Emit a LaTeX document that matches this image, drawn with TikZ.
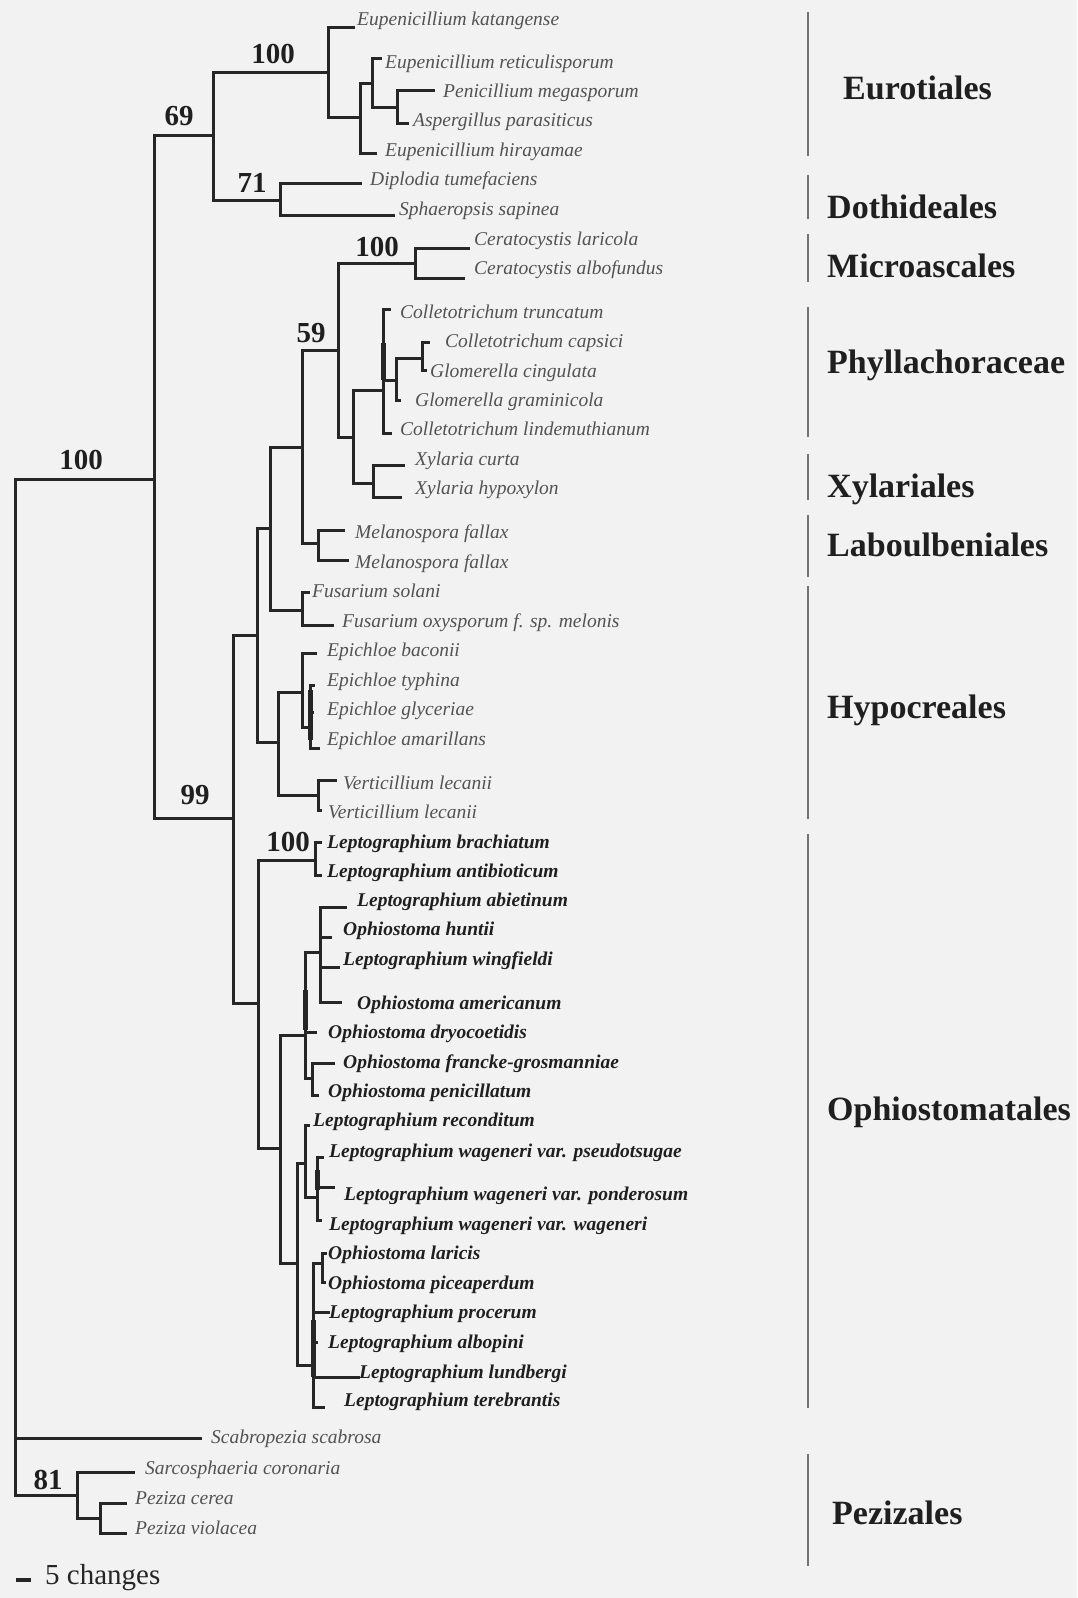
\documentclass[tikz,border=0pt]{standalone}
\usepackage{fontspec}
\setmainfont{Liberation Serif}
\begin{document}
\begin{tikzpicture}[x=1pt,y=-1pt,
  br/.style={line width=3pt, draw=black!85, line cap=rect},
  thk/.style={line width=5pt, draw=black!85},
  bar/.style={line width=2.2pt, draw=black!55},
  lf/.style={anchor=west, inner sep=0pt, text height=13.3pt, text depth=4.3pt,
    font=\fontsize{19.5}{22}\selectfont\itshape, text=black!68},
  of/.style={lf, font=\fontsize{19.5}{22}\selectfont\bfseries\itshape, text=black!88},
  grp/.style={anchor=west, inner sep=0pt, text height=23pt, text depth=0pt,
    font=\fontsize{34}{40}\selectfont\bfseries, text=black!88},
  supp/.style={inner sep=0pt, font=\fontsize{29}{34}\selectfont\bfseries, text=black!88},
  scl/.style={anchor=west, inner sep=0pt, font=\fontsize{29}{34}\selectfont, text=black!85}]
\useasboundingbox (0,0) rectangle (1077,1598);
\fill[black!5] (0,0) rectangle (1077,1598);

% internal nodes
\coordinate (R) at (15,479);
\coordinate (A) at (154,479);
\coordinate (B) at (213,135);
\coordinate (C) at (328,72);
\coordinate (D) at (360,117);
\coordinate (E) at (372,83);
\coordinate (F) at (397,107);
\coordinate (G) at (280,200);
\coordinate (H) at (233,818);
\coordinate (I) at (257,635);
\coordinate (J) at (270,528);
\coordinate (K) at (302,447);
\coordinate (L) at (338,350);
\coordinate (M) at (415,263);
\coordinate (N) at (353,437);
\coordinate (O) at (383,390);
\coordinate (P) at (396,380);
\coordinate (Q) at (422,358);
\coordinate (Xy) at (373,483);
\coordinate (Me) at (318,543);
\coordinate (Fu) at (302,610);
\coordinate (S) at (278,742);
\coordinate (Ep) at (302,692);
\coordinate (Ep2) at (310,727);
\coordinate (Ve) at (318,795);
\coordinate (T) at (258,1003);
\coordinate (U) at (315,860);
\coordinate (V) at (280,1148);
\coordinate (W) at (305,1035);
\coordinate (W1) at (320,952);
\coordinate (W2) at (312,1078);
\coordinate (X) at (297,1263);
\coordinate (Y) at (305,1163);
\coordinate (Y2) at (317,1197);
\coordinate (Z) at (313,1365);
\coordinate (Z2) at (322,1263);
\coordinate (Pz) at (77,1495);
\coordinate (Pz2) at (100,1518);

% leaf ends
\coordinate (l1) at (353,27);
\coordinate (l2) at (380,58);
\coordinate (l3) at (433,90);
\coordinate (l4) at (407,123);
\coordinate (l5) at (375,153);
\coordinate (l6) at (360,183);
\coordinate (l7) at (393,215);
\coordinate (l8) at (468,248);
\coordinate (l9) at (463,278);
\coordinate (l10) at (389,309);
\coordinate (l11) at (428,342);
\coordinate (l12) at (425,370);
\coordinate (l13) at (399,400);
\coordinate (l14) at (390,433);
\coordinate (l15) at (403,465);
\coordinate (l16) at (400,497);
\coordinate (l17) at (343,530);
\coordinate (l18) at (347,560);
\coordinate (l19) at (308,592);
\coordinate (l20) at (332,625);
\coordinate (l21) at (315,653);
\coordinate (l22) at (313,685);
\coordinate (l23) at (312,712);
\coordinate (l24) at (318,748);
\coordinate (l25) at (335,780);
\coordinate (l26) at (320,810);
\coordinate (l27) at (320,842);
\coordinate (l28) at (320,875);
\coordinate (l29) at (345,907);
\coordinate (l30) at (330,937);
\coordinate (l31) at (338,967);
\coordinate (l32) at (340,1002);
\coordinate (l33) at (315,1032);
\coordinate (l34) at (333,1063);
\coordinate (l35) at (317,1095);
\coordinate (l36) at (308,1125);
\coordinate (l37) at (322,1157);
\coordinate (l38) at (333,1187);
\coordinate (l39) at (320,1220);
\coordinate (l40) at (325,1253);
\coordinate (l41) at (324,1282);
\coordinate (l42) at (328,1312);
\coordinate (l43) at (316,1342);
\coordinate (l44) at (358,1377);
\coordinate (l45) at (323,1407);
\coordinate (l46) at (200,1438);
\coordinate (l47) at (133,1472);
\coordinate (l48) at (125,1503);
\coordinate (l49) at (125,1533);

% branches
\draw[br] (R) -- (A);
\draw[br] (R) |- (l46);
\draw[br] (R) |- (Pz);
\draw[br] (A) |- (B);
\draw[br] (A) |- (H);
\draw[br] (B) |- (C);
\draw[br] (B) |- (G);
\draw[br] (C) |- (l1);
\draw[br] (C) |- (D);
\draw[br] (D) |- (E);
\draw[br] (D) |- (l5);
\draw[br] (E) |- (l2);
\draw[br] (E) |- (F);
\draw[br] (F) |- (l3);
\draw[br] (F) |- (l4);
\draw[br] (G) |- (l6);
\draw[br] (G) |- (l7);
\draw[br] (H) |- (I);
\draw[br] (H) |- (T);
\draw[br] (I) |- (J);
\draw[br] (I) |- (S);
\draw[br] (J) |- (K);
\draw[br] (J) |- (Fu);
\draw[br] (K) |- (L);
\draw[br] (K) |- (Me);
\draw[br] (L) |- (M);
\draw[br] (L) |- (N);
\draw[br] (M) |- (l8);
\draw[br] (M) |- (l9);
\draw[br] (N) |- (O);
\draw[br] (N) |- (Xy);
\draw[br] (O) |- (l10);
\draw[br] (O) |- (P);
\draw[br] (O) |- (l14);
\draw[br] (P) |- (Q);
\draw[br] (P) |- (l13);
\draw[br] (Q) |- (l11);
\draw[br] (Q) |- (l12);
\draw[br] (Xy) |- (l15);
\draw[br] (Xy) |- (l16);
\draw[br] (Me) |- (l17);
\draw[br] (Me) |- (l18);
\draw[br] (Fu) |- (l19);
\draw[br] (Fu) |- (l20);
\draw[br] (S) |- (Ep);
\draw[br] (S) |- (Ve);
\draw[br] (Ep) |- (l21);
\draw[br] (Ep) |- (Ep2);
\draw[br] (Ep2) |- (l22);
\draw[br] (Ep2) |- (l23);
\draw[br] (Ep2) |- (l24);
\draw[br] (Ve) |- (l25);
\draw[br] (Ve) |- (l26);
\draw[br] (T) |- (U);
\draw[br] (T) |- (V);
\draw[br] (U) |- (l27);
\draw[br] (U) |- (l28);
\draw[br] (V) |- (W);
\draw[br] (V) |- (X);
\draw[br] (W) |- (W1);
\draw[br] (W) |- (l33);
\draw[br] (W) |- (W2);
\draw[br] (W1) |- (l29);
\draw[br] (W1) |- (l30);
\draw[br] (W1) |- (l31);
\draw[br] (W1) |- (l32);
\draw[br] (W2) |- (l34);
\draw[br] (W2) |- (l35);
\draw[br] (X) |- (Y);
\draw[br] (X) |- (Z);
\draw[br] (Y) |- (l36);
\draw[br] (Y) |- (Y2);
\draw[br] (Y2) |- (l37);
\draw[br] (Y2) |- (l38);
\draw[br] (Y2) |- (l39);
\draw[br] (Z) |- (Z2);
\draw[br] (Z) |- (l42);
\draw[br] (Z) |- (l43);
\draw[br] (Z) |- (l44);
\draw[br] (Z) |- (l45);
\draw[br] (Z2) |- (l40);
\draw[br] (Z2) |- (l41);
\draw[br] (Pz) |- (l47);
\draw[br] (Pz) |- (Pz2);
\draw[br] (Pz2) |- (l48);
\draw[br] (Pz2) |- (l49);

% thick (overlapping zero-length) segments
\draw[thk] ([yshift=47pt]O) -- ([yshift=10pt]O);
\draw[thk] ([yshift=37pt]Ep2) -- ([yshift=-13pt]Ep2);
\draw[thk] ([yshift=45pt]W) -- ([yshift=5pt]W);
\draw[thk] ([yshift=27pt]Y2) -- ([yshift=7pt]Y2);
\draw[thk] ([yshift=45pt]Z) -- ([yshift=-12pt]Z);

% leaf labels
\node[lf] (t1) at (357,21) {Eupenicillium katangense};
\node[lf] (t2) at (385,64) {Eupenicillium reticulisporum};
\node[lf] (t3) at (443,93) {Penicillium megasporum};
\node[lf] (t4) at (413,122) {Aspergillus parasiticus};
\node[lf] (t5) at (385,152) {Eupenicillium hirayamae};
\node[lf] (t6) at (370,181) {Diplodia tumefaciens};
\node[lf] (t7) at (399,211) {Sphaeropsis sapinea};
\node[lf] (t8) at (474,241) {Ceratocystis laricola};
\node[lf] (t9) at (474,270) {Ceratocystis albofundus};
\node[lf] (t10) at (400,314) {Colletotrichum truncatum};
\node[lf] (t11) at (445,343) {Colletotrichum capsici};
\node[lf] (t12) at (430,373) {Glomerella cingulata};
\node[lf] (t13) at (415,402) {Glomerella graminicola};
\node[lf] (t14) at (400,431) {Colletotrichum lindemuthianum};
\node[lf] (t15) at (415,461) {Xylaria curta};
\node[lf] (t16) at (415,490) {Xylaria hypoxylon};
\node[lf] (t17) at (355,534) {Melanospora fallax};
\node[lf] (t18) at (355,564) {Melanospora fallax};
\node[lf] (t19) at (312,593) {Fusarium solani};
\node[lf] (t20) at (342,623) {Fusarium oxysporum f. sp. melonis};
\node[lf] (t21) at (327,652) {Epichloe baconii};
\node[lf] (t22) at (327,682) {Epichloe typhina};
\node[lf] (t23) at (327,711) {Epichloe glyceriae};
\node[lf] (t24) at (327,741) {Epichloe amarillans};
\node[lf] (t25) at (343,785) {Verticillium lecanii};
\node[lf] (t26) at (328,814) {Verticillium lecanii};
\node[of] (t27) at (327,844) {Leptographium brachiatum};
\node[of] (t28) at (327,873) {Leptographium antibioticum};
\node[of] (t29) at (357,902) {Leptographium abietinum};
\node[of] (t30) at (343,931) {Ophiostoma huntii};
\node[of] (t31) at (343,961) {Leptographium wingfieldi};
\node[of] (t32) at (357,1005) {Ophiostoma americanum};
\node[of] (t33) at (328,1034) {Ophiostoma dryocoetidis};
\node[of] (t34) at (343,1064) {Ophiostoma francke-grosmanniae};
\node[of] (t35) at (328,1093) {Ophiostoma penicillatum};
\node[of] (t36) at (313,1122) {Leptographium reconditum};
\node[of] (t37) at (329,1153) {Leptographium wageneri var. pseudotsugae};
\node[of] (t38) at (344,1196) {Leptographium wageneri var. ponderosum};
\node[of] (t39) at (329,1226) {Leptographium wageneri var. wageneri};
\node[of] (t40) at (328,1255) {Ophiostoma laricis};
\node[of] (t41) at (328,1285) {Ophiostoma piceaperdum};
\node[of] (t42) at (329,1314) {Leptographium procerum};
\node[of] (t43) at (328,1344) {Leptographium albopini};
\node[of] (t44) at (359,1374) {Leptographium lundbergi};
\node[of] (t45) at (344,1402) {Leptographium terebrantis};
\node[lf] (t46) at (211,1439) {Scabropezia scabrosa};
\node[lf] (t47) at (145,1470) {Sarcosphaeria coronaria};
\node[lf] (t48) at (135,1500) {Peziza cerea};
\node[lf] (t49) at (135,1530) {Peziza violacea};

% support values
\node[supp] (s1) at (273,54) {100};
\node[supp] (s2) at (179,116) {69};
\node[supp] (s3) at (252,183) {71};
\node[supp] (s4) at (377,247) {100};
\node[supp] (s5) at (311,333) {59};
\node[supp] (s6) at (81,460) {100};
\node[supp] (s7) at (195,795) {99};
\node[supp] (s8) at (288,842) {100};
\node[supp] (s9) at (48,1480) {81};

% group bars
\coordinate (g1a) at (808,12);   \coordinate (g1b) at (808,156);
\coordinate (g2a) at (808,175);  \coordinate (g2b) at (808,219);
\coordinate (g3a) at (808,234);  \coordinate (g3b) at (808,282);
\coordinate (g4a) at (808,307);  \coordinate (g4b) at (808,437);
\coordinate (g5a) at (808,454);  \coordinate (g5b) at (808,500);
\coordinate (g6a) at (808,515);  \coordinate (g6b) at (808,577);
\coordinate (g7a) at (808,586);  \coordinate (g7b) at (808,819);
\coordinate (g8a) at (808,834);  \coordinate (g8b) at (808,1408);
\coordinate (g9a) at (808,1454); \coordinate (g9b) at (808,1566);
\draw[bar] (g1a) -- (g1b);
\draw[bar] (g2a) -- (g2b);
\draw[bar] (g3a) -- (g3b);
\draw[bar] (g4a) -- (g4b);
\draw[bar] (g5a) -- (g5b);
\draw[bar] (g6a) -- (g6b);
\draw[bar] (g7a) -- (g7b);
\draw[bar] (g8a) -- (g8b);
\draw[bar] (g9a) -- (g9b);

\node[grp] (o1) at (843,88) {Eurotiales};
\node[grp] (o2) at (827,207) {Dothideales};
\node[grp] (o3) at (827,266) {Microascales};
\node[grp] (o4) at (827,362) {Phyllachoraceae};
\node[grp] (o5) at (827,486) {Xylariales};
\node[grp] (o6) at (827,545) {Laboulbeniales};
\node[grp] (o7) at (827,707) {Hypocreales};
\node[grp] (o8) at (827,1109) {Ophiostomatales};
\node[grp] (o9) at (832,1513) {Pezizales};

% scale bar
\coordinate (sb1) at (16,1580);
\coordinate (sb2) at (31,1580);
\draw[line width=3.5pt, draw=black!85] (sb1) -- (sb2);
\node[scl] (sbt) at (45,1578) {5 changes};
\end{tikzpicture}
\end{document}
